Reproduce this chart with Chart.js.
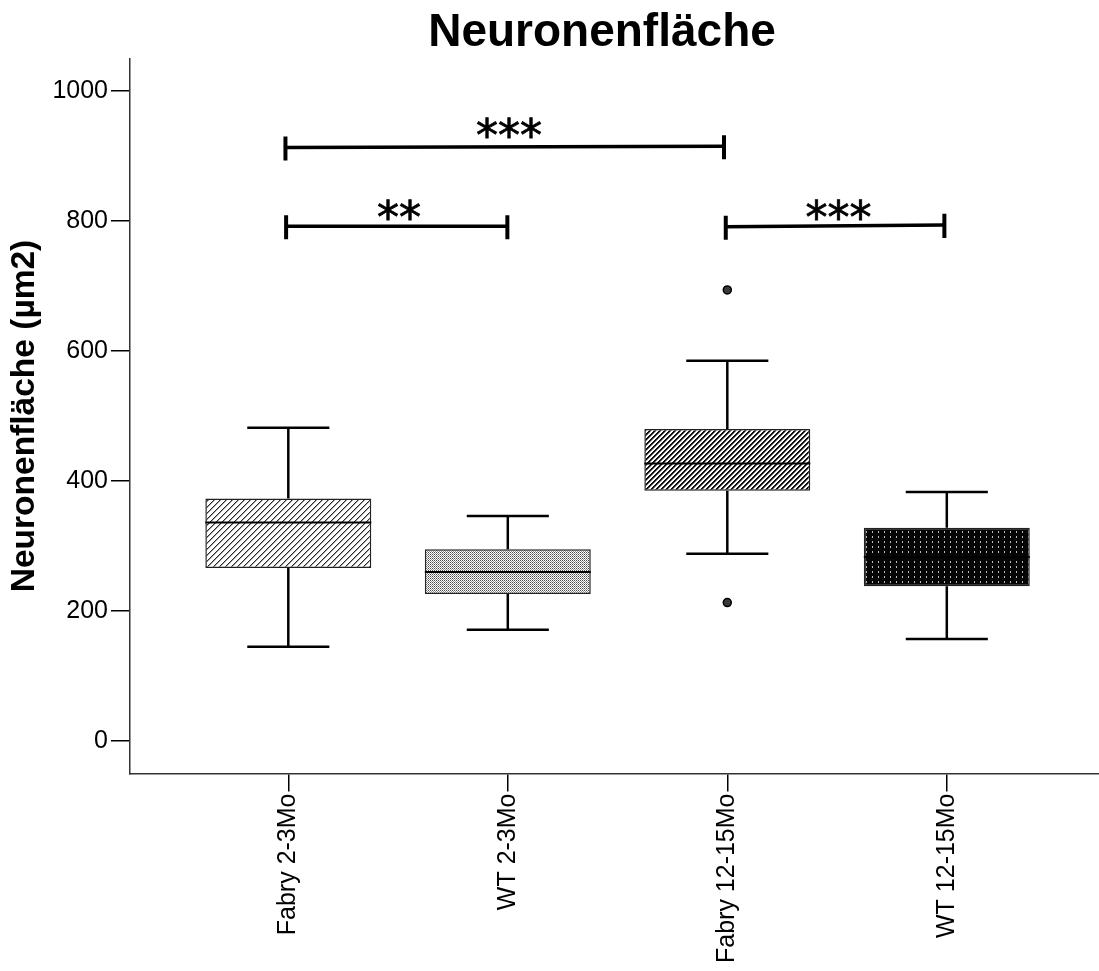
<!DOCTYPE html>
<html>
<head>
<meta charset="utf-8">
<script src="https://cdn.jsdelivr.net/npm/chart.js@4"></script>
<style>
  html, body { margin: 0; padding: 0; background: #fff; }
  canvas { display: block; }
</style>
</head>
<body>
<canvas id="chart" width="1099" height="971"></canvas>
<script>
// Groups and box-plot summaries (µm²)
const categories   = ['Fabry 2-3Mo', 'WT 2-3Mo', 'Fabry 12-15Mo', 'WT 12-15Mo'];
const whiskerLow   = [145, 171, 288, 157];
const quartile1    = [266, 226, 385, 238];
const medians      = [336, 260, 427, 283];
const quartile3    = [373, 295, 480, 328];
const whiskerHigh  = [482, 346, 585, 383];
const outlierGroup = [3, 3];
const outlierValue = [694, 213];
const yTicks       = [0, 200, 400, 600, 800, 1000];

// Significance brackets (group positions and heights) and their labels
const bracketStart  = [0.987, 0.990, 2.993];
const bracketEnd    = [2.985, 1.998, 3.989];
const bracketStartY = [913, 792, 791];
const bracketEndY   = [915, 792, 794];
const sigLabels     = ['***', '**', '***'];
const sigLabelX     = [2.005, 1.504, 3.507];
const sigLabelY     = [908, 781, 781];

const FONT = '"Liberation Sans", Arial, Helvetica, sans-serif';
const STAR_FONT = '"DejaVu Sans", Verdana, sans-serif';
const BOX_HALF = 0.378;   // half box width, in group units
const CAP_HALF = 0.187;   // half whisker-cap width, in group units
const TICK_UP = 17, TICK_DOWN = 20;  // bracket end ticks, in value units

const canvas = document.getElementById('chart');
const ctx = canvas.getContext('2d');

function makePattern(w, h, draw) {
  const tile = document.createElement('canvas');
  tile.width = w; tile.height = h;
  const g = tile.getContext('2d');
  draw(g);
  return ctx.createPattern(tile, 'repeat');
}

// Fine diagonal hatching
const hatchLight = makePattern(6, 6, g => {
  g.fillStyle = '#fff'; g.fillRect(0, 0, 6, 6);
  for (let i = 0; i < 6; i++) {
    g.fillStyle = '#2a2a2a'; g.fillRect(i, 5 - i, 1, 1);
    g.fillStyle = '#a0a0a0'; g.fillRect(i, (6 - i) % 6, 1, 1);
  }
});
// Stipple checker
const stipple = makePattern(2, 2, g => {
  g.fillStyle = '#fff'; g.fillRect(0, 0, 2, 2);
  g.fillStyle = '#4a4a4a'; g.fillRect(0, 0, 1, 1);
  g.fillStyle = '#909090'; g.fillRect(1, 1, 1, 1);
});
// Dense diagonal hatching
const hatchDense = makePattern(5, 5, g => {
  g.fillStyle = '#fff'; g.fillRect(0, 0, 5, 5);
  for (let i = 0; i < 5; i++) {
    g.fillStyle = '#111'; g.fillRect(i, 4 - i, 1, 1); g.fillRect(i, (5 - i) % 5, 1, 1);
    g.fillStyle = '#8a8a8a'; g.fillRect(i, (6 - i) % 5, 1, 1);
  }
});
// Black with dotted vertical lines
const dottedDark = makePattern(6, 5, g => {
  g.fillStyle = '#050505'; g.fillRect(0, 0, 6, 5);
  g.fillStyle = '#bdbdbd'; g.fillRect(2, 1, 1, 2);
});

// Whisker stems and caps, median bars
const whiskerPts = [];
const medianPts = [];
categories.forEach((_, i) => {
  const x = i + 1;
  whiskerPts.push(
    { x, y: quartile3[i] }, { x, y: whiskerHigh[i] }, { x, y: null },
    { x, y: quartile1[i] }, { x, y: whiskerLow[i] }, { x, y: null },
    { x: x - CAP_HALF, y: whiskerHigh[i] }, { x: x + CAP_HALF, y: whiskerHigh[i] }, { x, y: null },
    { x: x - CAP_HALF, y: whiskerLow[i] }, { x: x + CAP_HALF, y: whiskerLow[i] }, { x, y: null }
  );
  medianPts.push({ x: x - BOX_HALF, y: medians[i] }, { x: x + BOX_HALF, y: medians[i] }, { x, y: null });
});

// Bracket bars and end ticks
const bracketLinePts = [];
const bracketTickPts = [];
bracketStart.forEach((x0, i) => {
  const x1 = bracketEnd[i], y0 = bracketStartY[i], y1 = bracketEndY[i];
  bracketLinePts.push({ x: x0, y: y0 }, { x: x1, y: y1 }, { x: x1, y: null });
  bracketTickPts.push(
    { x: x0, y: y0 + TICK_UP }, { x: x0, y: y0 - TICK_DOWN }, { x: x0, y: null },
    { x: x1, y: y1 + TICK_UP }, { x: x1, y: y1 - TICK_DOWN }, { x: x1, y: null }
  );
});

const segmentStyle = {
  type: 'line', showLine: true, spanGaps: false, fill: false, tension: 0,
  pointRadius: 0, pointHoverRadius: 0, borderColor: '#000', borderCapStyle: 'butt'
};

const sigTextPlugin = {
  id: 'sigText',
  afterDatasetsDraw(chart) {
    const { ctx, scales: { x, y } } = chart;
    ctx.save();
    ctx.font = '44px ' + STAR_FONT;
    ctx.fillStyle = '#000';
    ctx.strokeStyle = '#000';
    ctx.lineWidth = 0.8;
    ctx.textAlign = 'center';
    ctx.textBaseline = 'alphabetic';
    sigLabels.forEach((t, i) => {
      const px = x.getPixelForValue(sigLabelX[i]);
      const py = y.getPixelForValue(sigLabelY[i]);
      ctx.fillText(t, px, py);
      ctx.strokeText(t, px, py);
    });
    ctx.restore();
  }
};

const headingPlugin = {
  id: 'heading',
  afterDraw(chart) {
    const c = chart.ctx;
    c.save();
    c.font = 'bold 46px ' + FONT;
    c.fillStyle = '#000';
    c.textAlign = 'center';
    c.textBaseline = 'alphabetic';
    c.fillText('Neuronenfläche', 602, 46);
    c.restore();
  }
};

new Chart(ctx, {
  type: 'bar',
  data: {
    datasets: [
      {
        type: 'bar',
        data: categories.map((_, i) => ({ x: i + 1, y: [quartile1[i], quartile3[i]] })),
        backgroundColor: [hatchLight, stipple, hatchDense, dottedDark],
        borderColor: '#222',
        borderWidth: 1.5,
        borderSkipped: false,
        barPercentage: 0.756,
        categoryPercentage: 1,
        order: 5
      },
      Object.assign({}, segmentStyle, { data: whiskerPts, borderWidth: 2.5, order: 4 }),
      Object.assign({}, segmentStyle, { data: medianPts, borderWidth: 2, order: 3 }),
      {
        type: 'scatter',
        data: outlierGroup.map((g, i) => ({ x: g, y: outlierValue[i] })),
        pointRadius: 4,
        pointHoverRadius: 4,
        pointBackgroundColor: '#3a3a3a',
        pointBorderColor: '#000',
        pointBorderWidth: 1.5,
        order: 2
      },
      Object.assign({}, segmentStyle, { data: bracketLinePts, borderWidth: 3.5, order: 1 }),
      Object.assign({}, segmentStyle, { data: bracketTickPts, borderWidth: 4, order: 1 })
    ]
  },
  options: {
    responsive: false,
    devicePixelRatio: 1,
    animation: false,
    events: [],
    layout: { autoPadding: false, padding: { top: 58.5, left: 0, right: 0, bottom: 0 } },
    plugins: {
      legend: { display: false },
      tooltip: { enabled: false },
      title: { display: false }
    },
    scales: {
      x: {
        type: 'linear',
        min: 0.2788,
        max: 4.6934,
        offset: false,
        afterBuildTicks: scale => { scale.ticks = categories.map((_, i) => ({ value: i + 1 })); },
        afterFit: scale => {
          scale.height = 197.5;
          scale.paddingLeft = 0; scale.paddingRight = 0;
        },
        ticks: {
          autoSkip: false,
          minRotation: 90,
          maxRotation: 90,
          padding: 2,
          color: '#000',
          font: { family: FONT, size: 25 },
          callback: v => categories[Math.round(v) - 1]
        },
        grid: { offset: false, drawOnChartArea: false, drawTicks: true, tickLength: 18, color: '#000', lineWidth: 1.5 },
        border: { display: true, color: '#333', width: 1.5 }
      },
      y: {
        type: 'linear',
        min: -50,
        max: 1050,
        afterBuildTicks: scale => { scale.ticks = yTicks.map(v => ({ value: v })); },
        afterFit: scale => {
          scale.width = 130;
          scale.paddingTop = 0; scale.paddingBottom = 0;
        },
        ticks: {
          padding: 3,
          color: '#000',
          font: { family: FONT, size: 25 },
          callback: v => String(v)
        },
        grid: { drawOnChartArea: false, drawTicks: true, tickLength: 19, color: '#000', lineWidth: 1.5 },
        border: { display: true, color: '#333', width: 1.5 },
        title: {
          display: true,
          text: 'Neuronenfläche (µm2)',
          color: '#000',
          font: { family: FONT, size: 33.5, weight: 'bold' },
          padding: { top: 5, bottom: 0 }
        }
      }
    }
  },
  plugins: [sigTextPlugin, headingPlugin]
});
</script>
</body>
</html>
